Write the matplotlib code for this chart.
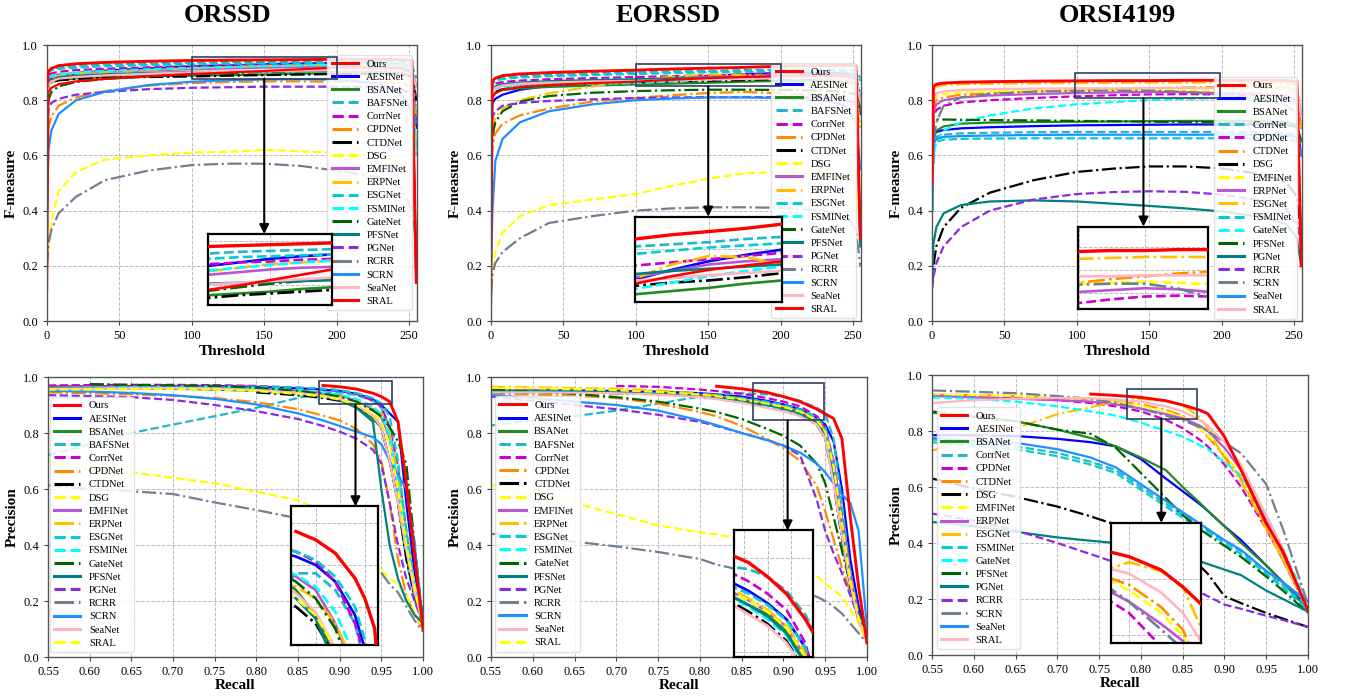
import numpy as np
import matplotlib
matplotlib.use('Agg')
import matplotlib.pyplot as plt
from matplotlib.patches import Rectangle

plt.rcParams['font.family'] = ['Liberation Serif', 'DejaVu Serif']

nan = np.nan

names_a = ['Ours', 'AESINet', 'BSANet', 'BAFSNet', 'CorrNet', 'CPDNet', 'CTDNet', 'DSG', 'EMFINet',
           'ERPNet', 'ESGNet', 'FSMINet', 'GateNet', 'PFSNet', 'PGNet', 'RCRR', 'SCRN', 'SeaNet', 'SRAL']
names_b = ['Ours', 'AESINet', 'BSANet', 'CorrNet', 'CPDNet', 'CTDNet', 'DSG', 'EMFINet', 'ERPNet',
           'ESGNet', 'FSMINet', 'GateNet', 'PFSNet', 'PGNet', 'RCRR', 'SCRN', 'SeaNet', 'SRAL']

# threshold samples for the F-measure curves
thr = [0, 1, 3, 8, 20, 40, 70, 100, 125, 150, 175, 200, 230, 245, 252, 255]

orssd_fm = [
    [.850, .905, .915, .925, .932, .937, .941, .944, .945, .946, .947, .948, .948, .947, .944, .140],
    [.800, .868, .878, .888, .898, .907, .915, .922, .926, .930, .933, .935, .935, .930, .920, .700],
    [.800, .858, .866, .873, .879, .884, .887, .889, .891, .893, .896, .898, .898, .895, .890, .800],
    [.850, .905, .913, .919, .924, .929, .933, .936, .938, .939, .940, .941, .941, .939, .930, .140],
    [.850, .888, .897, .903, .909, .914, .919, .924, .926, .927, .929, .930, .930, .927, .920, .800],
    [.600, .700, .740, .780, .810, .833, .853, .862, .866, .868, .868, .867, .865, .860, .850, .750],
    [.800, .858, .866, .872, .877, .881, .884, .886, .889, .891, .893, .895, .895, .892, .885, .800],
    [.200, .270, .360, .470, .540, .585, .600, .610, .613, .620, .615, .608, .600, .570, .500, .330],
    [.840, .878, .887, .893, .898, .903, .908, .912, .915, .918, .920, .921, .921, .918, .910, .850],
    [.800, .868, .878, .888, .897, .903, .910, .916, .920, .924, .926, .928, .928, .924, .915, .600],
    [.850, .900, .908, .913, .918, .923, .927, .930, .932, .933, .934, .935, .935, .932, .925, .880],
    [.840, .878, .888, .894, .900, .906, .912, .917, .920, .923, .926, .928, .928, .925, .915, .600],
    [.700, .800, .830, .850, .866, .877, .887, .894, .898, .902, .905, .907, .905, .900, .880, .850],
    [.800, .860, .873, .883, .889, .894, .899, .902, .903, .904, .905, .906, .906, .903, .900, .140],
    [.700, .770, .790, .805, .820, .830, .840, .845, .847, .849, .849, .849, .847, .840, .820, .780],
    [.200, .280, .330, .390, .450, .510, .545, .565, .570, .570, .562, .545, .520, .480, .400, .280],
    [.400, .620, .690, .750, .800, .830, .855, .867, .872, .875, .876, .875, .860, .820, .760, .720],
    [.800, .858, .868, .878, .884, .890, .896, .901, .903, .905, .907, .909, .909, .905, .895, .850],
    [.110, .830, .845, .858, .868, .877, .887, .895, .900, .906, .912, .918, .918, .915, .900, .150],
]

eorssd_fm = [
    [.800, .870, .880, .889, .895, .900, .905, .909, .913, .916, .919, .923, .925, .926, .925, .300],
    [.700, .790, .805, .820, .838, .852, .863, .871, .880, .888, .894, .899, .900, .897, .890, .750],
    [.750, .815, .828, .837, .843, .848, .853, .857, .860, .863, .867, .870, .870, .867, .860, .760],
    [.800, .865, .875, .882, .887, .892, .897, .902, .904, .906, .909, .911, .912, .911, .908, .880],
    [.780, .850, .860, .866, .871, .876, .880, .884, .887, .890, .893, .896, .897, .895, .890, .800],
    [.500, .640, .680, .715, .745, .770, .795, .808, .818, .826, .830, .825, .815, .800, .780, .700],
    [.750, .810, .830, .840, .848, .855, .861, .865, .868, .870, .873, .877, .878, .877, .875, .820],
    [.100, .180, .250, .320, .380, .420, .440, .460, .490, .515, .535, .540, .535, .520, .480, .350],
    [.750, .830, .845, .853, .860, .866, .870, .873, .879, .885, .888, .890, .890, .887, .880, .800],
    [.600, .700, .735, .770, .800, .825, .850, .872, .885, .893, .892, .885, .880, .870, .850, .700],
    [.800, .860, .870, .877, .882, .887, .891, .895, .898, .901, .903, .905, .906, .905, .900, .870],
    [.750, .830, .842, .849, .854, .858, .860, .862, .868, .874, .879, .883, .884, .882, .875, .820],
    [.500, .670, .720, .760, .795, .815, .827, .833, .836, .838, .838, .837, .835, .830, .820, .760],
    [.750, .835, .850, .858, .864, .869, .873, .876, .879, .881, .883, .885, .886, .884, .880, .270],
    [.600, .740, .760, .780, .790, .797, .803, .808, .810, .811, .811, .811, .810, .800, .790, .770],
    [.100, .170, .210, .250, .300, .355, .380, .400, .408, .412, .412, .410, .400, .380, .330, .200],
    [.200, .400, .580, .660, .720, .760, .785, .800, .806, .810, .810, .808, .800, .780, .720, .550],
    [.750, .830, .845, .853, .860, .864, .868, .870, .872, .875, .877, .879, .880, .878, .870, .800],
    [.060, .810, .825, .838, .848, .855, .862, .867, .874, .880, .884, .888, .890, .890, .888, .300],
]

orsi_fm = [
    [.500, .850, .858, .862, .865, .867, .869, .870, .871, .871, .872, .872, .872, .871, .868, .200],
    [.400, .670, .685, .692, .698, .702, .706, .709, .710, .711, .712, .712, .711, .709, .705, .600],
    [.400, .660, .690, .705, .715, .719, .721, .722, .723, .724, .725, .725, .724, .720, .710, .650],
    [.400, .640, .668, .675, .680, .682, .684, .685, .685, .685, .685, .685, .684, .680, .670, .600],
    [.500, .740, .765, .780, .792, .800, .808, .814, .818, .821, .822, .821, .818, .812, .800, .700],
    [.500, .780, .800, .810, .820, .826, .832, .836, .840, .843, .846, .848, .848, .845, .838, .750],
    [.120, .200, .270, .340, .410, .465, .510, .540, .552, .560, .560, .553, .530, .500, .450, .300],
    [.500, .800, .815, .822, .828, .832, .834, .835, .836, .837, .836, .834, .832, .828, .820, .700],
    [.500, .760, .785, .800, .810, .817, .822, .826, .828, .830, .829, .826, .822, .815, .800, .700],
    [.500, .840, .850, .855, .858, .860, .861, .862, .863, .864, .864, .864, .863, .861, .855, .700],
    [.400, .630, .650, .657, .660, .661, .662, .662, .662, .662, .662, .662, .661, .658, .650, .600],
    [.400, .600, .650, .690, .720, .745, .770, .785, .793, .800, .805, .808, .808, .805, .790, .750],
    [.500, .720, .730, .730, .729, .728, .727, .725, .724, .722, .721, .720, .718, .715, .700, .650],
    [.150, .280, .340, .390, .420, .433, .437, .433, .425, .417, .408, .397, .375, .350, .300, .200],
    [.120, .160, .210, .270, .340, .400, .440, .460, .467, .470, .468, .458, .435, .405, .350, .280],
    [.400, .650, .720, .780, .810, .823, .831, .834, .835, .835, .830, .820, .800, .780, .750, .300],
    [.400, .640, .660, .667, .670, .672, .674, .675, .675, .675, .675, .675, .675, .673, .665, .600],
    [.500, .800, .825, .832, .837, .840, .842, .843, .843, .844, .844, .844, .843, .842, .835, .750],
]

# recall samples for the PR curves
orssd_rec = [0.55, 0.60, 0.65, 0.70, 0.75, 0.80, 0.85, 0.88, 0.90, 0.92, 0.94, 0.95, 0.96, 0.97, 0.98, 0.99, 1.00]
orssd_pre = [
    [nan, nan, nan, nan, nan, nan, nan, .970, .965, .957, .942, .930, .912, .840, .620, .360, .100],
    [.965, .966, .967, .968, .968, .965, .960, .955, .950, .940, .920, .900, .870, .840, .550, .300, .150],
    [.966, .966, .966, .966, .965, .962, .950, .935, .920, .895, .850, .820, .700, .550, .350, .220, .120],
    [.720, .760, .800, .830, .860, .890, .925, .945, .945, .935, .915, .890, .820, .600, .350, .200, .120],
    [.970, .971, .972, .972, .971, .968, .962, .958, .952, .940, .915, .895, .820, .680, .450, .250, .120],
    [.945, .942, .938, .933, .925, .910, .885, .862, .845, .815, .760, .700, .550, .350, .220, .150, .100],
    [nan, nan, nan, nan, nan, .945, .935, .925, .915, .895, .860, .820, .700, .550, .350, .220, .120],
    [.700, .670, .660, .640, .620, .590, .560, .520, .480, .430, .360, .310, .280, .260, .220, .160, .100],
    [.962, .963, .964, .965, .964, .960, .952, .943, .935, .915, .885, .855, .780, .600, .400, .250, .120],
    [.955, .958, .960, .960, .958, .954, .945, .937, .930, .915, .890, .870, .800, .650, .450, .250, .120],
    [.960, .962, .964, .966, .966, .965, .962, .958, .953, .943, .925, .905, .860, .700, .450, .250, .120],
    [.960, .962, .963, .964, .963, .960, .952, .944, .937, .922, .895, .865, .790, .620, .400, .250, .120],
    [nan, .975, .972, .970, .968, .962, .950, .940, .930, .912, .880, .860, .820, .770, .690, .400, .120],
    [.960, .960, .960, .958, .955, .950, .940, .930, .918, .890, .840, .600, .400, .280, .200, .150, .120],
    [.935, .932, .928, .918, .900, .878, .850, .825, .805, .780, .740, .690, .550, .400, .280, .200, .120],
    [.613, .600, .592, .582, .552, .525, .495, .460, .430, .390, .330, .300, .260, .230, .180, .130, .090],
    [.950, .948, .943, .935, .922, .902, .870, .845, .825, .805, .785, .760, .700, .650, .600, .400, .120],
    [.958, .959, .960, .960, .958, .953, .943, .933, .922, .900, .860, .820, .700, .550, .380, .230, .120],
    [.955, .956, .957, .957, .955, .950, .940, .930, .920, .900, .870, .840, .760, .600, .400, .250, .110],
]

eorssd_rec = [0.55, 0.60, 0.65, 0.70, 0.75, 0.80, 0.82, 0.85, 0.88, 0.90, 0.92, 0.94, 0.95, 0.96, 0.97, 0.98, 0.99, 1.00]
eorssd_pre = [
    [nan, nan, nan, nan, nan, nan, .967, .958, .945, .930, .912, .885, .868, .852, .780, .500, .250, .050],
    [.950, .952, .952, .950, .948, .942, .938, .930, .915, .902, .885, .855, .830, .770, .600, .350, .180, .080],
    [.950, .950, .948, .945, .940, .930, .925, .915, .900, .890, .872, .840, .790, .650, .450, .280, .150, .070],
    [.827, .845, .860, .880, .905, .930, .937, .942, .938, .930, .915, .890, .870, .780, .550, .300, .150, .070],
    [nan, nan, nan, .968, .965, .955, .950, .940, .925, .912, .895, .860, .820, .700, .500, .300, .150, .070],
    [.940, .937, .933, .925, .905, .875, .860, .825, .780, .745, .700, .610, .520, .420, .320, .230, .150, .070],
    [.945, .945, .944, .942, .938, .930, .923, .910, .893, .880, .862, .830, .780, .620, .420, .250, .130, .060],
    [.615, .580, .550, .510, .470, .445, .438, .420, .390, .370, .340, .290, .260, .240, .215, .170, .120, .050],
    [.948, .948, .947, .945, .942, .935, .930, .920, .905, .893, .877, .845, .810, .700, .500, .300, .150, .070],
    [.965, .963, .960, .958, .952, .940, .935, .923, .907, .895, .878, .850, .800, .650, .450, .270, .140, .070],
    [.950, .950, .950, .948, .945, .938, .933, .925, .912, .900, .884, .855, .820, .680, .480, .280, .140, .070],
    [.945, .945, .945, .943, .940, .932, .926, .915, .898, .885, .868, .835, .790, .640, .450, .270, .140, .070],
    [.955, .948, .940, .928, .912, .887, .875, .850, .815, .790, .755, .690, .620, .500, .380, .260, .150, .070],
    [.948, .948, .947, .945, .941, .933, .927, .916, .900, .888, .870, .838, .790, .640, .450, .270, .140, .070],
    [.930, .915, .900, .885, .865, .840, .825, .800, .775, .755, .720, .560, .450, .370, .300, .220, .140, .070],
    [.440, .430, .412, .395, .375, .350, .330, .310, .280, .260, .235, .215, .200, .180, .155, .120, .085, .050],
    [.935, .925, .912, .900, .880, .845, .828, .800, .775, .755, .730, .690, .660, .620, .580, .550, .450, .100],
    [.945, .945, .944, .942, .937, .928, .921, .908, .890, .878, .860, .830, .780, .620, .430, .260, .130, .060],
    [.962, .960, .957, .953, .947, .937, .931, .920, .905, .893, .876, .845, .805, .680, .480, .280, .140, .070],
]

orsi_rec = [0.55, 0.60, 0.65, 0.70, 0.74, 0.77, 0.80, 0.83, 0.85, 0.87, 0.88, 0.90, 0.92, 0.95, 0.97, 1.00]
orsi_pre = [
    [nan, nan, nan, nan, .932, .927, .920, .908, .893, .875, .862, .780, .660, .470, .370, .160],
    [.785, .785, .782, .772, .760, .745, .700, .630, .585, .540, .515, .460, .410, .320, .260, .170],
    [.865, .852, .835, .805, .775, .745, .705, .660, .600, .545, .515, .460, .400, .320, .260, .160],
    [.770, .755, .745, .722, .690, .660, .600, .540, .500, .465, .445, .410, .370, .300, .250, .170],
    [.925, .922, .918, .910, .900, .888, .870, .840, .810, .770, .745, .680, .600, .450, .340, .160],
    [.930, .928, .925, .918, .912, .905, .895, .875, .855, .810, .780, .710, .630, .460, .340, .160],
    [.630, .595, .565, .530, .495, .465, .440, .400, .370, .320, .290, .210, .185, .150, .130, .100],
    [.930, .928, .925, .920, .913, .905, .890, .870, .850, .810, .785, .720, .640, .470, .350, .160],
    [.925, .920, .915, .910, .905, .895, .880, .860, .845, .820, .800, .740, .660, .480, .360, .160],
    [.730, .770, .810, .860, .885, .905, .915, .907, .893, .850, .810, .700, .620, .450, .340, .170],
    [.760, .745, .735, .710, .680, .650, .590, .530, .490, .455, .440, .400, .360, .290, .240, .160],
    [.920, .915, .905, .888, .870, .855, .830, .800, .780, .750, .735, .690, .640, .500, .380, .180],
    [.870, .850, .835, .805, .790, .740, .650, .560, .500, .450, .430, .390, .350, .280, .230, .150],
    [.475, .460, .440, .420, .408, .400, .380, .360, .350, .335, .325, .305, .285, .230, .200, .155],
    [.505, .480, .445, .400, .360, .330, .300, .270, .250, .225, .210, .180, .165, .140, .125, .100],
    [.945, .940, .935, .925, .915, .900, .880, .855, .838, .815, .800, .760, .720, .610, .450, .180],
    [.775, .765, .758, .735, .705, .670, .610, .550, .510, .470, .450, .410, .375, .300, .260, .190],
    [.900, .910, .915, .918, .917, .912, .905, .888, .870, .840, .820, .760, .680, .500, .380, .160],
]

colors = ['#FF0000', '#0000FF', '#228B22', '#20B8C8', '#CC00CC', '#FF8C00', '#000000', '#FFFF00',
          '#BA55D3', '#FFC000', '#00CED1', '#00FFFF', '#006400', '#008080', '#8A2BE2', '#708090',
          '#1E90FF', '#FFB6C1', '#FF0000']
lstyles = ['-', '-', '-', '--', '--', '-.', '-.', '--', '-', '-.', '--', '--', '-.', '-', '--', '-.',
           '-', '-', '-']
pr_colors = colors[:-1] + ['#FFFF00']
pr_lstyles = lstyles[:-1] + ['--']

W, H = 1348, 696


def frac(l, t, r, b):
    return [l / W, 1 - b / H, (r - l) / W, (b - t) / H]


fig = plt.figure(figsize=(W / 100, H / 100), dpi=100)


def panel(rect, x, curves, names, cols, lss, box, ins_rect, arrow_x, kind, leg_anchor):
    ax = fig.add_axes(rect)
    axins = ax.inset_axes(ins_rect)
    for i, y in enumerate(curves):
        lw = 2.1 if i == 0 else 1.6
        zo = 3 if i == 0 else 2
        ax.plot(x, y, color=cols[i], ls=lss[i], lw=lw, label=names[i], zorder=zo)
        axins.plot(x, y, color=cols[i], ls=lss[i], lw=lw + 0.3, zorder=zo)

    ax.set_ylim(0, 1)
    ax.set_yticks(np.arange(0, 1.01, 0.2))
    ax.set_yticklabels([f'{v:.1f}' for v in np.arange(0, 1.01, 0.2)])
    if kind == 'fm':
        ax.set_xlim(0, 255.5)
        ax.set_xticks([0, 50, 100, 150, 200, 250])
        ax.set_xlabel('Threshold', fontsize=11, fontweight='bold', labelpad=2)
        ax.set_ylabel('F-measure', fontsize=11, fontweight='bold', labelpad=3)
        loc = 'upper right'
    else:
        ax.set_xlim(0.55, 1.0)
        xt = np.arange(0.55, 1.001, 0.05)
        ax.set_xticks(xt)
        ax.set_xticklabels([f'{v:.2f}' for v in xt])
        ax.set_xlabel('Recall', fontsize=11, fontweight='bold', labelpad=1)
        ax.set_ylabel('Precision', fontsize=11, fontweight='bold', labelpad=3)
        loc = 'lower left'
    ax.tick_params(labelsize=9, length=3, color='#444444')
    ax.grid(True, ls='--', lw=0.7, color='#BBBBBB')
    for s in ax.spines.values():
        s.set_color('#555555')
        s.set_linewidth(1.0)

    leg = ax.legend(loc=loc, bbox_to_anchor=leg_anchor, borderaxespad=0, fontsize=7.6,
                    labelspacing=0.36, handlelength=2.5, handletextpad=0.8, borderpad=0.4,
                    framealpha=0.85, edgecolor='#DDDDDD', fancybox=True)
    for h in leg.legend_handles:
        h.set_linewidth(2.2)

    # zoomed region
    x0, x1, y0, y1 = box
    ax.add_patch(Rectangle((x0, y0), x1 - x0, y1 - y0, fill=False, edgecolor='#2F4060',
                           lw=1.2, zorder=6))
    axins.set_xlim(x0, x1)
    axins.set_ylim(y0, y1)
    axins.tick_params(length=0, labelbottom=False, labelleft=False)
    axins.grid(True, ls='--', lw=0.7, color='#BBBBBB')
    for s in axins.spines.values():
        s.set_color('black')
        s.set_linewidth(1.6)
    axins.set_zorder(7)
    ax.annotate('', xy=(arrow_x, ins_rect[1] + ins_rect[3]), xycoords=('data', 'axes fraction'),
                xytext=(arrow_x, y0), textcoords='data',
                arrowprops=dict(arrowstyle='-|>', color='black', lw=1.5, mutation_scale=14,
                                shrinkA=0, shrinkB=0), zorder=6)
    return ax


panel(frac(47, 45, 417, 321), thr, orssd_fm, names_a, colors, lstyles,
      (100, 200, 0.878, 0.958), [0.435, 0.058, 0.335, 0.257], 150, 'fm', (0.986, 0.964))
panel(frac(491, 45, 861, 321), thr, eorssd_fm, names_a, colors, lstyles,
      (100, 200, 0.85, 0.93), [0.39, 0.07, 0.397, 0.308], 150, 'fm', (0.986, 0.935))
panel(frac(932, 45, 1302, 321), thr, orsi_fm, names_b, colors, lstyles,
      (99, 199, 0.807, 0.897), [0.395, 0.042, 0.352, 0.30], 146, 'fm', (0.986, 0.885))

panel(frac(48, 377, 423, 657), orssd_rec, orssd_pre, names_a, pr_colors, pr_lstyles,
      (0.875, 0.963, 0.902, 0.985), [0.648, 0.042, 0.231, 0.496], 0.919, 'pr', (0.005, 0.018))
panel(frac(491, 377, 867, 657), eorssd_rec, eorssd_pre, names_a, pr_colors, pr_lstyles,
      (0.864, 0.948, 0.845, 0.979), [0.645, 0.0, 0.211, 0.452], 0.905, 'pr', (0.011, 0.019))
panel(frac(932, 375, 1308, 655), orsi_rec, orsi_pre, names_b, colors, lstyles,
      (0.783, 0.867, 0.843, 0.95), [0.475, 0.042, 0.241, 0.43], 0.8245, 'pr', (0.012, 0.021))

for xc, title in [(228, 'ORSSD'), (668, 'EORSSD'), (1117, 'ORSI4199')]:
    fig.text(xc / W, 1 - 15 / H, title, ha='center', va='center', fontsize=19, fontweight='bold')

fig.savefig('out.png', dpi=100)
